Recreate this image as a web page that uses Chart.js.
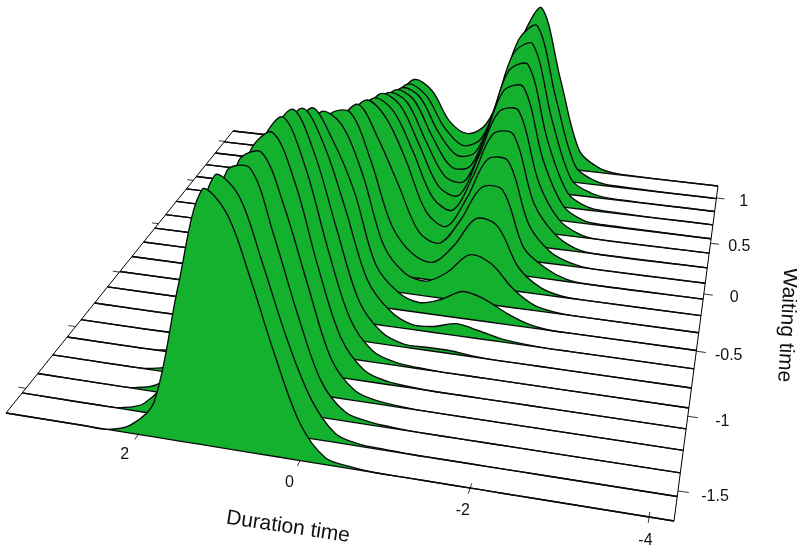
<!DOCTYPE html>
<html>
<head>
<meta charset="utf-8">
<style>html,body{margin:0;padding:0;background:#fff}canvas{display:block}</style>
<script src="https://cdn.jsdelivr.net/npm/chart.js@4"></script>
</head>
<body>
<canvas id="c" width="797" height="549"></canvas>
<script>
// duration positions of each sample along a ridge
const durationGrid = [3.71, 2.7, 2.4, 2.1, 1.8, 1.5, 1.2, 0.9, 0.6, 0.3, 0, -0.3, -0.6, -0.9, -1.2, -1.5, -1.8, -2.1, -2.4, -2.7, -4.27];
// waiting-time level of each ridge, back to front
const waitingLevels = [1.142, 0.993, 0.845, 0.696, 0.547, 0.398, 0.25, 0.101, -0.048, -0.196, -0.345, -0.494, -0.642, -0.791, -0.94, -1.089, -1.237, -1.386, -1.535, -1.683];
// ridge heights, back to front
const ridge0  = [0,0,0,1,2,6,22,50,72,63,34,24,36,78,129,158,89,20,5,1,0];
const ridge1  = [0,0,0,1,2,7,26,58,79,70,40,24,33,78,136,152,80,16,4,1,0];
const ridge2  = [0,0,0,1,2,8,30,65,87,80,47,26,32,78,135,146,72,15,4,1,0];
const ridge3  = [0,0,0,1,3,10,36,72,97,90,55,27,30,75,130,138,64,15,3,1,0];
const ridge4  = [0,0,0,1,3,12,42,82,107,100,63,30,28,72,123,129,58,15,3,1,0];
const ridge5  = [0,0,0,1,4,15,50,92,119,110,72,33,27,68,115,119,50,15,3,0,0];
const ridge6  = [0,0,0,1,5,18,60,102,128,118,80,36,26,62,107,109,43,15,3,0,0];
const ridge7  = [0,0,0,2,6,22,72,115,140,125,85,36,24,55,96,97,36,12,3,0,0];
const ridge8  = [0,0,0,2,7,28,88,128,150,118,74,30,22,48,83,83,28,11,2,0,0];
const ridge9  = [0,0,0,2,8,35,105,152,157,112,50,24,18,38,67,63,24,7,1,0,0];
const ridge10 = [0,0,0,3,10,45,125,170,160,113,45,20,15,27,47,41,19,5,1,0,0];
const ridge11 = [0,0,0,3,12,58,150,190,160,112,42,18,10,16,27,22,11,3,0,0,0];
const ridge12 = [0,0,0,4,15,70,172,206,172,110,43,16,5,6,12,8,3,1,0,0,0];
const ridge13 = [0,0,1,4,17,82,188,222,180,108,40,12,3,3,3,1,0,0,0,0,0];
const ridge14 = [0,0,1,5,20,92,200,232,186,108,40,11,3,1,0,0,0,0,0,0,0];
const ridge15 = [0,0,1,6,24,105,212,235,188,108,40,11,3,1,0,0,0,0,0,0,0];
const ridge16 = [0,0,1,7,28,120,222,234,182,108,38,10,3,1,0,0,0,0,0,0,0];
const ridge17 = [0,0,1,8,32,135,232,238,175,100,36,9,3,1,0,0,0,0,0,0,0];
const ridge18 = [0,0,1,9,40,160,248,232,168,97,40,9,2,1,0,0,0,0,0,0,0];
const ridge19 = [0,0,0,8,35,154,255,236,173,100,37,7,2,0,0,0,0,0,0,0,0];
const ridges = [ridge0,ridge1,ridge2,ridge3,ridge4,ridge5,ridge6,ridge7,ridge8,ridge9,ridge10,ridge11,ridge12,ridge13,ridge14,ridge15,ridge16,ridge17,ridge18,ridge19];
// axis ticks
const durationTicks = [2, 0, -2, -4];
const waitingTicks = [1, 0.5, 0, -0.5, -1, -1.5];
const durationTitle = "Duration time";
const waitingTitle = "Waiting time";

const GREEN = "#14B12F";
const durMax = 3.71, durMin = -4.27, waitMax = 1.142, waitMin = -1.683;

// perspective of the floor plane, from its four corners
const BL=[233,131], BR=[718,186], FR=[674,521], FL=[6,413];
const H = (function(){
  const dx1=BR[0]-FR[0], dx2=FL[0]-FR[0], sx=BL[0]-BR[0]+FR[0]-FL[0];
  const dy1=BR[1]-FR[1], dy2=FL[1]-FR[1], sy=BL[1]-BR[1]+FR[1]-FL[1];
  const den=dx1*dy2-dx2*dy1;
  const g=(sx*dy2-dx2*sy)/den, h=(dx1*sy-sx*dy1)/den;
  return {a:BR[0]-BL[0]+g*BR[0], b:FL[0]-BL[0]+h*FL[0], c:BL[0],
          d:BR[1]-BL[1]+g*BR[1], e:FL[1]-BL[1]+h*FL[1], f:BL[1], g, h};
})();
function project(dur, wait, height){
  const u=(durMax-dur)/(durMax-durMin), v=(waitMax-wait)/(waitMax-waitMin);
  const w=H.g*u+H.h*v+1;
  return {x:(H.a*u+H.b*v+H.c)/w, y:(H.d*u+H.e*v+H.f)/w-(height||0)};
}

const datasets=[];
function lineSet(label, data, width, order){
  datasets.push({label, data, showLine:true, borderColor:"#000", borderWidth:width, pointRadius:0, tension:0, fill:false, order, clip:false});
}
const N=ridges.length;
// frame edges and ticks are drawn first
const O=1000;
lineSet("left edge",[project(durMax,waitMax),project(durMax,waitMin)],1,O);
lineSet("right edge",[project(durMin,waitMax),project(durMin,waitMin)],1,O);
durationTicks.forEach(t=>lineSet("duration tick "+t,[project(t,waitMin+0.03),project(t,waitMin-0.035)],0.8,O));
waitingTicks.forEach(t=>{
  lineSet("waiting tick right "+t,[project(durMin,t),project(durMin-0.12,t)],0.8,O);
  lineSet("waiting tick left "+t,[project(durMax,t),project(durMax+0.1,t)],0.8,O);
});
ridges.forEach((r,i)=>{
  const wl=waitingLevels[i];
  const topIndex=datasets.length;
  datasets.push({
    label:"ridge "+i,
    data:r.map((z,k)=>project(durationGrid[k],wl,z)),
    showLine:true, borderColor:"#0a0a0a", borderWidth:1.35, pointRadius:0, tension:0.33,
    backgroundColor:GREEN, fill:{target:topIndex+1}, order:2*(N-i)+1, clip:false
  });
  datasets.push({
    label:"floor "+i,
    data:r.map((z,k)=>project(durationGrid[k],wl,0)),
    showLine:true, borderColor:"#0a0a0a", borderWidth:1.35, pointRadius:0, tension:0, fill:false, order:2*(N-i), clip:false
  });
});

const textPlugin={
  id:"axisText",
  afterDraw(chart){
    const ctx=chart.ctx, xs=chart.scales.x, ys=chart.scales.y;
    const put=(t,x,y,size,rot)=>{
      ctx.save();
      ctx.translate(xs.getPixelForValue(x),ys.getPixelForValue(y));
      ctx.rotate(rot||0);
      ctx.font=size+'px "Liberation Sans", Arial, sans-serif';
      ctx.fillStyle="#111";ctx.textAlign="center";ctx.textBaseline="middle";
      ctx.fillText(t,0,0);
      ctx.restore();
    };
    durationTicks.forEach(t=>{const p=project(t,waitMin-0.14);put(String(t),p.x,p.y,16);});
    waitingTicks.forEach(t=>{const p=project(durMin-0.41,t);put(String(t),p.x,p.y,16);});
    put(durationTitle,288,527,21,8.6*Math.PI/180);
    put(waitingTitle,787,325,21,93*Math.PI/180);
  }
};

new Chart(document.getElementById("c"),{
  type:"scatter",
  data:{datasets},
  options:{
    responsive:false, animation:false, events:[],
    layout:{padding:0},
    scales:{
      x:{type:"linear",min:0,max:797,display:false},
      y:{type:"linear",min:0,max:549,reverse:true,display:false}
    },
    plugins:{legend:{display:false},tooltip:{enabled:false},title:{display:false},
      filler:{propagate:false,drawTime:"beforeDatasetDraw"}}
  },
  plugins:[textPlugin]
});
</script>
</body>
</html>
